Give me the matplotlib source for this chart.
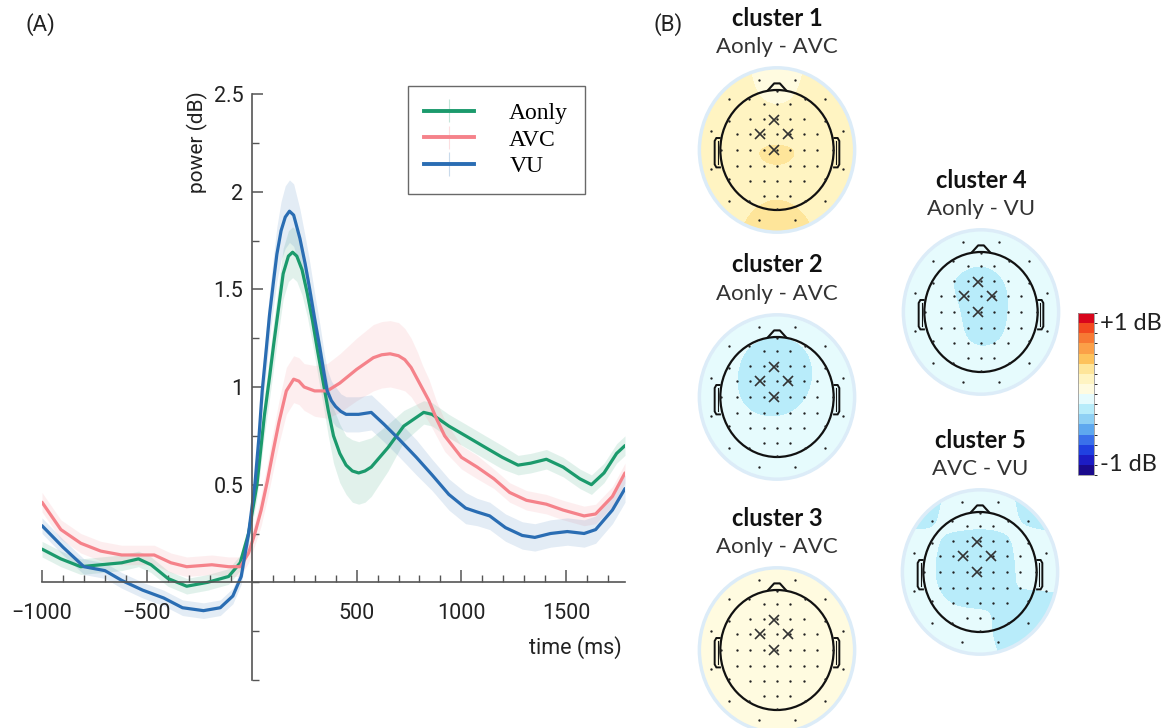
import numpy as np
import matplotlib.pyplot as plt
from matplotlib.colors import ListedColormap, BoundaryNorm
from matplotlib.patches import Circle, Polygon
from matplotlib.ticker import MultipleLocator, FixedLocator
from matplotlib.cm import ScalarMappable

plt.rcParams['font.family'] = ['Roboto', 'DejaVu Sans']

# ---- panel A: time (ms), mean power (dB) and half-width of the shaded band
t_aonly = [-1000, -910, -815, -720, -620, -540, -480, -400, -310, -210,
           -110, -55, -15, 25, 45, 60, 85, 105, 120, 150,
           175, 195, 215, 240, 265, 290, 315, 340, 365, 390,
           420, 450, 480, 510, 540, 570, 650, 725, 820, 860,
           940, 1020, 1115, 1195, 1270, 1330, 1405, 1485, 1565, 1620,
           1680, 1740, 1780]
p_aonly = [0.17, 0.12, 0.08, 0.09, 0.10, 0.12, 0.09, 0.02, -0.02, 0.0,
           0.03, 0.10, 0.25, 0.50, 0.70, 0.85, 1.05, 1.22, 1.34, 1.58,
           1.67, 1.69, 1.67, 1.60, 1.48, 1.34, 1.18, 1.03, 0.88, 0.75,
           0.66, 0.60, 0.57, 0.56, 0.57, 0.59, 0.69, 0.80, 0.87, 0.86,
           0.80, 0.75, 0.69, 0.64, 0.60, 0.61, 0.63, 0.59, 0.53, 0.50,
           0.56, 0.66, 0.70]
e_aonly = [0.04] * 12 + [0.05, 0.07, 0.09, 0.10, 0.11, 0.12, 0.12, 0.13, 0.13, 0.13,
                         0.13, 0.13, 0.12, 0.12, 0.12, 0.12, 0.13, 0.14, 0.15, 0.15,
                         0.16, 0.16, 0.16, 0.15] + \
          [0.12, 0.08, 0.06, 0.06, 0.06, 0.06, 0.06, 0.06, 0.05] + [0.05] * 8

t_avc = [-1000, -910, -815, -720, -620, -540, -465, -385, -310, -190,
         -110, -55, -15, 15, 45, 75, 100, 130, 165, 200,
         225, 250, 300, 360, 420, 500, 580, 620, 660, 700,
         730, 760, 790, 815, 845, 880, 920, 1000, 1075, 1155,
         1230, 1310, 1405, 1485, 1585, 1640, 1720, 1780]
p_avc = [0.41, 0.27, 0.20, 0.16, 0.14, 0.14, 0.14, 0.10, 0.08, 0.09,
         0.08, 0.08, 0.15, 0.25, 0.37, 0.52, 0.66, 0.82, 0.98, 1.04,
         1.03, 1.00, 0.98, 0.98, 1.02, 1.09, 1.15, 1.165, 1.17, 1.16,
         1.14, 1.10, 1.04, 0.99, 0.93, 0.84, 0.75, 0.64, 0.59, 0.53,
         0.46, 0.42, 0.40, 0.37, 0.34, 0.35, 0.44, 0.56]
e_avc = [0.05] * 12 + [0.05, 0.06, 0.08, 0.09, 0.10, 0.11, 0.12, 0.12, 0.12, 0.12,
                       0.13, 0.14, 0.15, 0.16, 0.17, 0.17, 0.17, 0.17, 0.16, 0.15,
                       0.14, 0.12, 0.11, 0.09, 0.08] + [0.06, 0.06] + [0.05] * 9

t_vu = [-1000, -900, -800, -700, -620, -520, -420, -330, -230, -150,
        -90, -50, -15, 15, 35, 50, 70, 85, 105, 120,
        140, 160, 180, 200, 230, 255, 275, 300, 325, 345,
        360, 380, 400, 425, 450, 510, 570, 630, 705, 785,
        860, 940, 1020, 1075, 1135, 1210, 1290, 1350, 1425, 1505,
        1585, 1640, 1720, 1780]
p_vu = [0.29, 0.18, 0.08, 0.06, 0.01, -0.04, -0.08, -0.13, -0.145, -0.13,
        -0.07, 0.03, 0.25, 0.50, 0.75, 0.98, 1.20, 1.37, 1.55, 1.68,
        1.80, 1.87, 1.90, 1.88, 1.76, 1.63, 1.51, 1.35, 1.20, 1.07,
        0.98, 0.93, 0.90, 0.875, 0.86, 0.86, 0.87, 0.81, 0.73, 0.64,
        0.55, 0.45, 0.38, 0.36, 0.34, 0.28, 0.24, 0.23, 0.25, 0.26,
        0.25, 0.27, 0.37, 0.48]
e_vu = [0.04] * 12 + [0.05, 0.07, 0.09, 0.10, 0.11, 0.12, 0.13, 0.14, 0.15, 0.16,
                      0.16, 0.16, 0.15, 0.14, 0.14, 0.13, 0.12, 0.11, 0.11, 0.10,
                      0.10, 0.09, 0.09] + \
       [0.09, 0.09, 0.09, 0.09, 0.09, 0.08, 0.08, 0.08] + [0.07] * 11

labels = ['Aonly', 'AVC', 'VU']
colors = ['#1b9a6c', '#f5828a', '#2a6db3']

# ---- panel B: topography values (dB) on a 7x7 grid, rows top (front) to bottom (back)
topo_c1 = [[0.10, 0.12, 0.13, 0.10, 0.13, 0.12, 0.10],
           [0.14, 0.14, 0.14, 0.08, 0.14, 0.14, 0.14],
           [0.14, 0.15, 0.16, 0.16, 0.16, 0.15, 0.14],
           [0.14, 0.16, 0.28, 0.30, 0.28, 0.16, 0.14],
           [0.14, 0.16, 0.20, 0.22, 0.20, 0.16, 0.14],
           [0.16, 0.18, 0.24, 0.26, 0.24, 0.18, 0.16],
           [0.18, 0.22, 0.28, 0.40, 0.28, 0.22, 0.18]]
topo_c2 = [[-0.06, -0.06, -0.06, -0.06, -0.06, -0.06, -0.06],
           [-0.06, -0.07, -0.12, -0.14, -0.12, -0.07, -0.06],
           [-0.06, -0.08, -0.17, -0.20, -0.16, -0.08, -0.06],
           [-0.06, -0.08, -0.17, -0.20, -0.14, -0.07, -0.06],
           [-0.06, -0.07, -0.09, -0.10, -0.08, -0.06, -0.06],
           [-0.08, -0.08, -0.07, -0.06, -0.06, -0.06, -0.06],
           [-0.10, -0.14, -0.09, -0.06, -0.06, -0.06, -0.06]]
topo_c3 = [[0.06, 0.06, 0.06, 0.06, 0.06, 0.06, 0.06],
           [0.08, 0.07, 0.06, 0.06, 0.06, 0.06, 0.06],
           [0.10, 0.15, 0.06, 0.06, 0.06, 0.06, 0.06],
           [0.08, 0.10, 0.06, 0.06, 0.10, 0.06, 0.06],
           [0.06, 0.06, 0.06, 0.06, 0.08, 0.12, 0.06],
           [0.06, 0.06, 0.06, 0.03, 0.06, 0.10, 0.06],
           [0.06, 0.06, 0.04, -0.04, 0.04, 0.06, 0.06]]
topo_c4 = [[-0.06, -0.08, -0.06, -0.06, -0.06, -0.06, -0.06],
           [-0.09, -0.15, -0.08, -0.11, -0.08, -0.06, -0.06],
           [-0.07, -0.08, -0.14, -0.18, -0.13, -0.06, -0.06],
           [-0.06, -0.06, -0.10, -0.18, -0.13, -0.06, -0.06],
           [-0.06, -0.06, -0.10, -0.17, -0.12, -0.06, -0.06],
           [-0.06, -0.10, -0.06, -0.06, -0.06, -0.06, -0.06],
           [-0.06, -0.14, -0.06, -0.06, -0.06, -0.06, -0.06]]
topo_c5 = [[-0.13, -0.15, -0.12, -0.09, -0.12, -0.15, -0.13],
           [-0.14, -0.16, -0.08, -0.07, -0.09, -0.17, -0.15],
           [-0.11, -0.09, -0.15, -0.19, -0.14, -0.07, -0.12],
           [-0.09, -0.08, -0.22, -0.28, -0.16, -0.06, -0.08],
           [-0.11, -0.09, -0.13, -0.14, -0.10, -0.16, -0.14],
           [-0.14, -0.10, -0.09, -0.08, -0.18, -0.28, -0.15],
           [-0.14, -0.12, -0.10, -0.09, -0.13, -0.17, -0.14]]

cluster_titles = ['cluster 1', 'cluster 2', 'cluster 3', 'cluster 4', 'cluster 5']
cluster_contrasts = ['Aonly - AVC', 'Aonly - AVC', 'Aonly - AVC', 'Aonly - VU', 'AVC - VU']
cluster_maps = [topo_c1, topo_c2, topo_c3, topo_c4, topo_c5]

cmap_colors = ['#1a0a8c', '#1c1cc4', '#2040e0', '#3a70ea', '#5ea8ef', '#8fd0f4', '#b8ecfa', '#e6fbfd',
               '#fffbe0', '#fff4c2', '#fee59a', '#fdc25c', '#fba048', '#f77a34', '#f24a20', '#d8051c']
cmap = ListedColormap(cmap_colors)
norm = BoundaryNorm(np.linspace(-1, 1, len(cmap_colors) + 1), cmap.N)

W, H = 1168, 728
fig = plt.figure(figsize=(W / 100, H / 100), dpi=100)


def px_axes(x0, y0, w, h):
    return fig.add_axes([x0 / W, 1 - (y0 + h) / H, w / W, h / H])


# ---------------- panel A ----------------
ax = px_axes(42, 94, 583, 586)
series = [(t_aonly, p_aonly, e_aonly), (t_avc, p_avc, e_avc), (t_vu, p_vu, e_vu)]
for (t, p, e), c in zip(series, colors):
    t, p, e = np.array(t), np.array(p), np.array(e)
    ax.fill_between(t, p - e, p + e, color=c, alpha=0.13, lw=0)
for (t, p, e), c in zip(series, colors):
    ax.plot(t, p, color=c, lw=2.3, solid_capstyle='round', solid_joinstyle='round')

handles = []
for c, lab in zip(colors, labels):
    h = ax.errorbar([np.nan], [np.nan], yerr=[0.1], color=c, lw=2.8,
                    ecolor=c, elinewidth=0.8, label=lab)
    h[2][0].set_alpha(0.25)
    handles.append(h)

ax.set_xlim(-1000, 1780)
ax.set_ylim(-0.5, 2.5)
for s in ['top', 'right']:
    ax.spines[s].set_visible(False)
ax.spines['left'].set_position(('data', 0))
ax.spines['bottom'].set_position(('data', 0))
for s in ['left', 'bottom']:
    ax.spines[s].set_color('#555555')
    ax.spines[s].set_linewidth(1.2)

ax.xaxis.set_major_locator(FixedLocator([-1000, -500, 0, 500, 1000, 1500]))
ax.xaxis.set_minor_locator(MultipleLocator(100))
ax.set_xticklabels(['\u22121000', '\u2212500', '', '500', '1000', '1500'])
ax.yaxis.set_major_locator(FixedLocator([0.5, 1, 1.5, 2, 2.5]))
ax.yaxis.set_minor_locator(MultipleLocator(0.25))
ax.set_yticklabels(['0.5', '1', '1.5', '2', '2.5'])
ax.tick_params(axis='x', which='major', direction='in', length=9, width=1.1, color='#555555',
               labelsize=15.5, pad=15, labelcolor='#222222')
ax.tick_params(axis='x', which='minor', direction='in', length=5, width=1.0, color='#555555')
ax.tick_params(axis='y', which='major', direction='in', length=8, width=1.1, color='#555555',
               labelsize=15.5, pad=6, labelcolor='#222222')
ax.tick_params(axis='y', which='minor', direction='in', length=5, width=1.0, color='#555555')

fig.text(197 / W, 1 - 142 / H, 'power (dB)', rotation=90, ha='center', va='center',
         fontsize=15, color='#222222')
fig.text(575 / W, 1 - 648 / H, 'time (ms)', ha='center', va='center', fontsize=15.5, color='#222222')

leg = ax.legend(handles=handles, labels=labels, loc='upper right', bbox_to_anchor=(0.931, 1.014),
                prop={'family': 'Liberation Serif', 'size': 17}, frameon=True, fancybox=False,
                edgecolor='#444444', handlelength=2.1, handletextpad=1.5, borderpad=0.7,
                labelspacing=0.22, borderaxespad=0)
leg.get_frame().set_linewidth(1.0)

fig.text(40 / W, 1 - 25 / H, '(A)', ha='center', va='center', fontsize=16, color='#222222')
fig.text(668 / W, 1 - 25 / H, '(B)', ha='center', va='center', fontsize=16, color='#222222')

# ---------------- panel B ----------------
centres = [(777, 150), (777, 397), (777, 650), (981, 312), (980, 572)]

# electrode montage (unit head radius)
ex, ey = [], []
for yy in [0.76, 0.51, 0.26, 0.0, -0.26, -0.51, -0.76]:
    for xx in np.arange(-0.94, 0.95, 0.235):
        if xx ** 2 + yy ** 2 < 0.86 ** 2:
            ex.append(xx)
            ey.append(yy)
for a in np.deg2rad(np.arange(15, 360, 30)):
    ex.append(1.2 * np.cos(a))
    ey.append(1.2 * np.sin(a))
for a in np.deg2rad(np.arange(0, 360, 30)):
    ex.append(0.98 * np.cos(a))
    ey.append(0.98 * np.sin(a))
cross_x = [-0.05, -0.3, 0.2, -0.05]
cross_y = [0.5, 0.26, 0.26, 0.0]

for (cx, cy), title, sub, grid in zip(centres, cluster_titles, cluster_contrasts, cluster_maps):
    tax = px_axes(cx - 85, cy - 90, 170, 180)
    tax.set_xlim(-1.5, 1.5)
    tax.set_ylim(-1.5, 1.5)
    tax.axis('off')
    disc = Circle((0, 0), 1.37, transform=tax.transData)
    im = tax.imshow(np.array(grid), extent=(-1.633, 1.633, -1.633, 1.633), origin='upper',
                    cmap=cmap, norm=norm, interpolation='bicubic', interpolation_stage='data',
                    aspect='auto')
    im.set_clip_path(disc)
    tax.add_patch(Circle((0, 0), 1.37, fill=False, ec='#dcecf8', lw=2.5))
    # head, nose, ears
    tax.add_patch(Circle((0, 0), 1.0, fill=False, ec='#111111', lw=1.6))
    tax.add_patch(Polygon([[-0.17, 0.985], [-0.05, 1.11], [0.05, 1.11], [0.17, 0.985]],
                          closed=False, fill=False, ec='#111111', lw=1.5, joinstyle='round'))
    for sgn in (-1, 1):
        ear = [[sgn * 0.995, 0.2], [sgn * 1.07, 0.2], [sgn * 1.1, 0.15], [sgn * 1.1, -0.24],
               [sgn * 1.07, -0.29], [sgn * 0.99, -0.29]]
        tax.add_patch(Polygon(ear, closed=False, fill=False, ec='#111111', lw=1.4))
        tax.plot([sgn * 1.035, sgn * 1.035], [0.15, -0.24], color='#111111', lw=0.8)
    tax.plot(ex, ey, 'o', color='#222222', ms=1.7, mew=0)
    tax.plot(cross_x, cross_y, 'x', color='#333333', ms=7.5, mew=1.2)

    fig.text(cx / W, 1 - (cy - 132) / H, title, ha='center', va='center', fontsize=17,
             fontweight='bold', family=['Lato', 'DejaVu Sans'], color='#111111')
    fig.text(cx / W, 1 - (cy - 103) / H, sub, ha='center', va='center', fontsize=16,
             family=['Lato', 'DejaVu Sans'], color='#333333')

# colour bar
cax = px_axes(1078, 313, 16, 162)
cb = fig.colorbar(ScalarMappable(norm=norm, cmap=cmap), cax=cax, ticks=[])
cb.outline.set_edgecolor('#999999')
cb.outline.set_linewidth(0.6)
fig.text(1100 / W, 1 - 323 / H, '+1 dB', ha='left', va='center', fontsize=17,
         family=['Lato', 'DejaVu Sans'], color='#222222')
fig.text(1100 / W, 1 - 465 / H, '-1 dB', ha='left', va='center', fontsize=17,
         family=['Lato', 'DejaVu Sans'], color='#222222')

fig.savefig('out.png', dpi=100)
